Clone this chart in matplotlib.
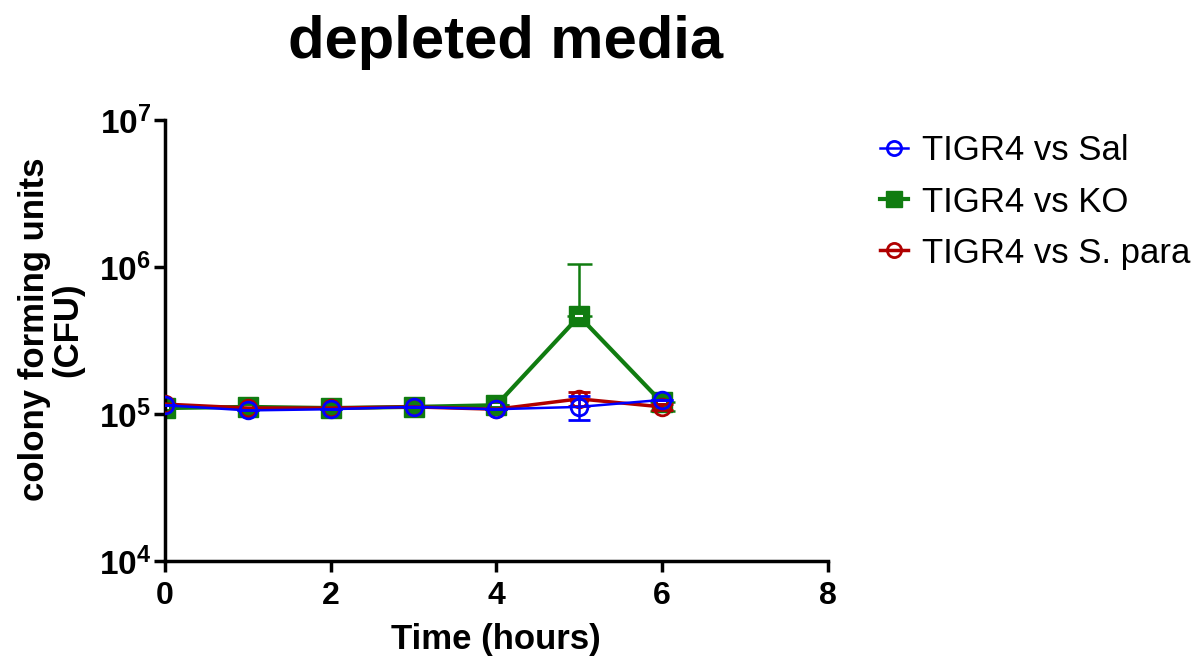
import matplotlib.pyplot as plt
from matplotlib.lines import Line2D

plt.rcParams['font.family'] = ['Liberation Sans', 'DejaVu Sans']
plt.rcParams['mathtext.fontset'] = 'custom'
plt.rcParams['mathtext.rm'] = 'Liberation Sans:bold'
plt.rcParams['mathtext.bf'] = 'Liberation Sans:bold'

time_h = [0, 1, 2, 3, 4, 5, 6]

sal_mean = [1.15e5, 1.06e5, 1.08e5, 1.12e5, 1.08e5, 1.12e5, 1.25e5]
sal_err = [0, 0, 0, 0, 0, 2.1e4, 0]

ko_mean = [1.10e5, 1.12e5, 1.10e5, 1.12e5, 1.15e5, 4.64e5, 1.20e5]
ko_err_lo = [0, 0, 0, 0, 0, 0, 1.5e4]
ko_err_hi = [0, 0, 0, 0, 0, 5.9e5, 0]

para_mean = [1.17e5, 1.10e5, 1.10e5, 1.12e5, 1.08e5, 1.27e5, 1.12e5]
para_err = [0, 0, 0, 0, 0, 1.4e4, 6e3]

SAL_C = '#0000ff'
KO_C = '#107c10'
PARA_C = '#b00000'


def main():
    fig = plt.figure(figsize=(11.96, 6.57), dpi=100)
    ax = fig.add_axes([0.138, 0.146, 0.554, 0.671])

    ax.errorbar(time_h, ko_mean, yerr=[ko_err_lo, ko_err_hi], color=KO_C, lw=3, marker='s', ms=14,
                mfc=KO_C, mec=KO_C, elinewidth=1.8, capsize=9, capthick=1.8, zorder=2)
    ax.plot(time_h, ko_mean, ls='none', marker='_', ms=6, mew=1.5, color='white', zorder=2.5)
    ax.errorbar(time_h, para_mean, yerr=para_err, color=PARA_C, lw=2.5, marker='o', ms=12,
                mfc='none', mec=PARA_C, mew=2, elinewidth=1.8, capsize=8, capthick=1.8, zorder=3)
    ax.errorbar(time_h, sal_mean, yerr=sal_err, color=SAL_C, lw=1.8, marker='o', ms=12,
                mfc='none', mec=SAL_C, mew=2, elinewidth=1.8, capsize=8, capthick=1.8, zorder=4)

    ax.set_yscale('log')
    ax.set_ylim(1e4, 1e7)
    ax.set_xlim(0, 8)
    ax.set_xticks([0, 2, 4, 6, 8])
    ax.set_yticks([1e4, 1e5, 1e6, 1e7])
    ax.set_yticklabels([r'$\mathbf{10^{4}}$', r'$\mathbf{10^{5}}$',
                        r'$\mathbf{10^{6}}$', r'$\mathbf{10^{7}}$'])
    ax.yaxis.set_minor_locator(plt.NullLocator())

    for s in ['top', 'right']:
        ax.spines[s].set_visible(False)
    for s in ['left', 'bottom']:
        ax.spines[s].set_linewidth(2.5)
    ax.tick_params(width=2.5, length=8)
    ax.tick_params(axis='x', labelsize=23, pad=6)
    ax.tick_params(axis='y', labelsize=24, pad=2)
    for lbl in ax.get_xticklabels():
        lbl.set_fontweight('bold')

    ax.set_xlabel('Time (hours)', fontsize=25, fontweight='bold', labelpad=9)
    ax.set_ylabel('colony forming units\n(CFU)', fontsize=25, fontweight='bold',
                  linespacing=1.0)
    ax.yaxis.set_label_coords(-0.122, 0.525)
    fig.text(0.423, 0.935, 'depleted media', fontsize=43, fontweight='bold',
             ha='center', va='center')

    handles = [
        Line2D([], [], color=SAL_C, lw=1.8, marker='o', ms=12, mfc='none', mec=SAL_C, mew=2),
        Line2D([], [], color=KO_C, lw=3, marker='s', ms=14, mfc=KO_C, mec=KO_C),
        Line2D([], [], color=PARA_C, lw=2.5, marker='o', ms=12, mfc='none', mec=PARA_C, mew=2),
    ]
    labels = ['TIGR4 vs Sal', 'TIGR4 vs KO', 'TIGR4 vs S. para']
    ax.legend(handles, labels, loc='upper left', bbox_to_anchor=(1.048, 1.015), frameon=False,
              fontsize=25, handlelength=0.8, handletextpad=0.4, labelspacing=0.52,
              markerscale=0.85, borderaxespad=0.2)

    fig.savefig('out.png', dpi=100)


if __name__ == '__main__':
    main()
